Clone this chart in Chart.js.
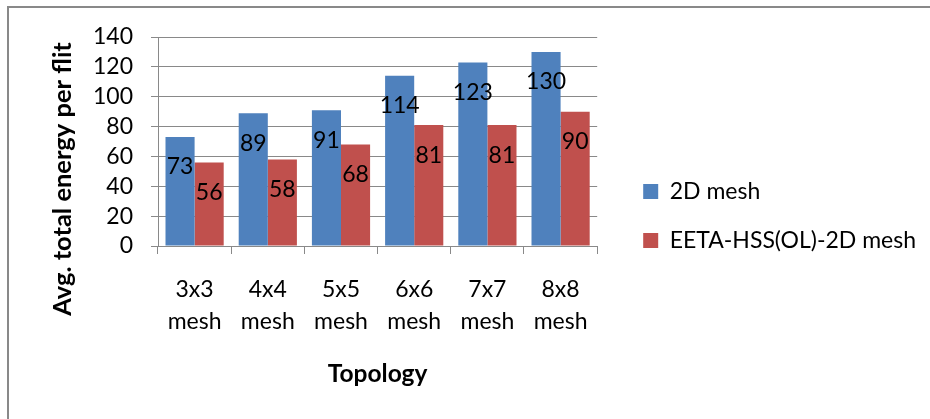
<!DOCTYPE html>
<html>
<head>
<meta charset="utf-8">
<script src="https://cdn.jsdelivr.net/npm/chart.js@4/dist/chart.umd.min.js"></script>
<style>
  html, body { margin: 0; padding: 0; background: #fff; }
  #wrap { width: 930px; height: 419px; position: relative; }
</style>
</head>
<body>
<div id="wrap"><canvas id="chart"></canvas></div>
<script>
// Topologies on the x axis (two-line labels)
const categories = [
  ['3x3', 'mesh'], ['4x4', 'mesh'], ['5x5', 'mesh'],
  ['6x6', 'mesh'], ['7x7', 'mesh'], ['8x8', 'mesh']
];
// Average total energy per flit
const mesh2D = [73, 89, 91, 114, 123, 130];
const eetaHss = [56, 58, 68, 81, 81, 90];
const seriesNames = ['2D mesh', 'EETA-HSS(OL)-2D mesh'];
// Value axis ticks
const yMin = 0, yMax = 140, yStep = 20;
const xTitle = 'Topology';
const yTitle = 'Avg. total energy per flit';

const FONT = 'Lato, "Open Sans", sans-serif';
const GRAY = '#898989';

// Frame around the whole chart
const framePlugin = {
  id: 'frame',
  beforeDraw(chart) {
    const ctx = chart.ctx;
    ctx.save();
    ctx.strokeStyle = GRAY;
    ctx.lineWidth = 2;
    ctx.strokeRect(8, 7, chart.width + 20, chart.height + 20);
    ctx.restore();
  }
};

// Push the legend a little away from the plot
const legendShiftPlugin = {
  id: 'legendShift',
  afterLayout(chart) {
    const lg = chart.legend;
    if (!lg) return;
    lg.left += 20; lg.right += 20;
    lg.top += 3; lg.bottom += 3;
  }
};

// Rotated y-axis title
const yTitlePlugin = {
  id: 'yTitle',
  afterDraw(chart) {
    const ctx = chart.ctx;
    ctx.save();
    ctx.translate(71, 179);
    ctx.rotate(-Math.PI / 2);
    ctx.font = 'bold 25.5px ' + FONT;
    ctx.fillStyle = '#000';
    ctx.textAlign = 'center';
    ctx.textBaseline = 'alphabetic';
    ctx.fillText(yTitle, 0, 0);
    ctx.restore();
  }
};

// Value labels just inside the top of each bar
const valueLabelPlugin = {
  id: 'valueLabels',
  afterDatasetsDraw(chart) {
    const ctx = chart.ctx;
    ctx.save();
    ctx.font = '23px ' + FONT;
    ctx.fillStyle = '#000';
    ctx.textAlign = 'center';
    ctx.textBaseline = 'middle';
    chart.data.datasets.forEach((ds, di) => {
      const meta = chart.getDatasetMeta(di);
      meta.data.forEach((bar, i) => {
        ctx.fillText(String(ds.data[i]), bar.x, bar.y + 30);
      });
    });
    ctx.restore();
  }
};

new Chart(document.getElementById('chart'), {
  type: 'bar',
  data: {
    labels: categories,
    datasets: [
      { label: seriesNames[0], data: mesh2D, backgroundColor: '#4F81BD' },
      { label: seriesNames[1], data: eetaHss, backgroundColor: '#C0504D' }
    ]
  },
  options: {
    responsive: true,
    maintainAspectRatio: false,
    animation: false,
    events: [],
    datasets: { bar: { categoryPercentage: 0.795, barPercentage: 1 } },
    layout: { padding: { left: 10, top: 37, right: 24, bottom: 30 } },
    plugins: {
      legend: {
        position: 'right',
        align: 'center',
        maxWidth: 400,
        labels: {
          boxWidth: 15,
          boxHeight: 15,
          padding: 26,
          color: '#000',
          font: { family: FONT, size: 23 }
        }
      },
      tooltip: { enabled: false }
    },
    scales: {
      x: {
        grid: { drawOnChartArea: false, drawTicks: true, tickLength: 8, color: GRAY },
        border: { color: GRAY, width: 1 },
        ticks: { color: '#000', padding: 19, autoSkip: false, maxRotation: 0, font: { family: FONT, size: 23, lineHeight: 1.4 } },
        title: {
          display: true, text: xTitle, color: '#000',
          padding: { top: 0, bottom: 0 },
          font: { family: FONT, size: 24.5, weight: 'bold', lineHeight: 1.2 }
        },
        afterFit(scale) { scale.height = 143; }
      },
      y: {
        min: yMin, max: yMax,
        grid: { color: GRAY, tickLength: 7, drawTicks: true },
        border: { color: GRAY, width: 1 },
        ticks: { stepSize: yStep, autoSkip: false, color: '#000', padding: 18, font: { family: FONT, size: 23 } },
        afterFit(scale) { scale.width = 148; }
      }
    }
  },
  plugins: [framePlugin, legendShiftPlugin, yTitlePlugin, valueLabelPlugin]
});
</script>
</body>
</html>
